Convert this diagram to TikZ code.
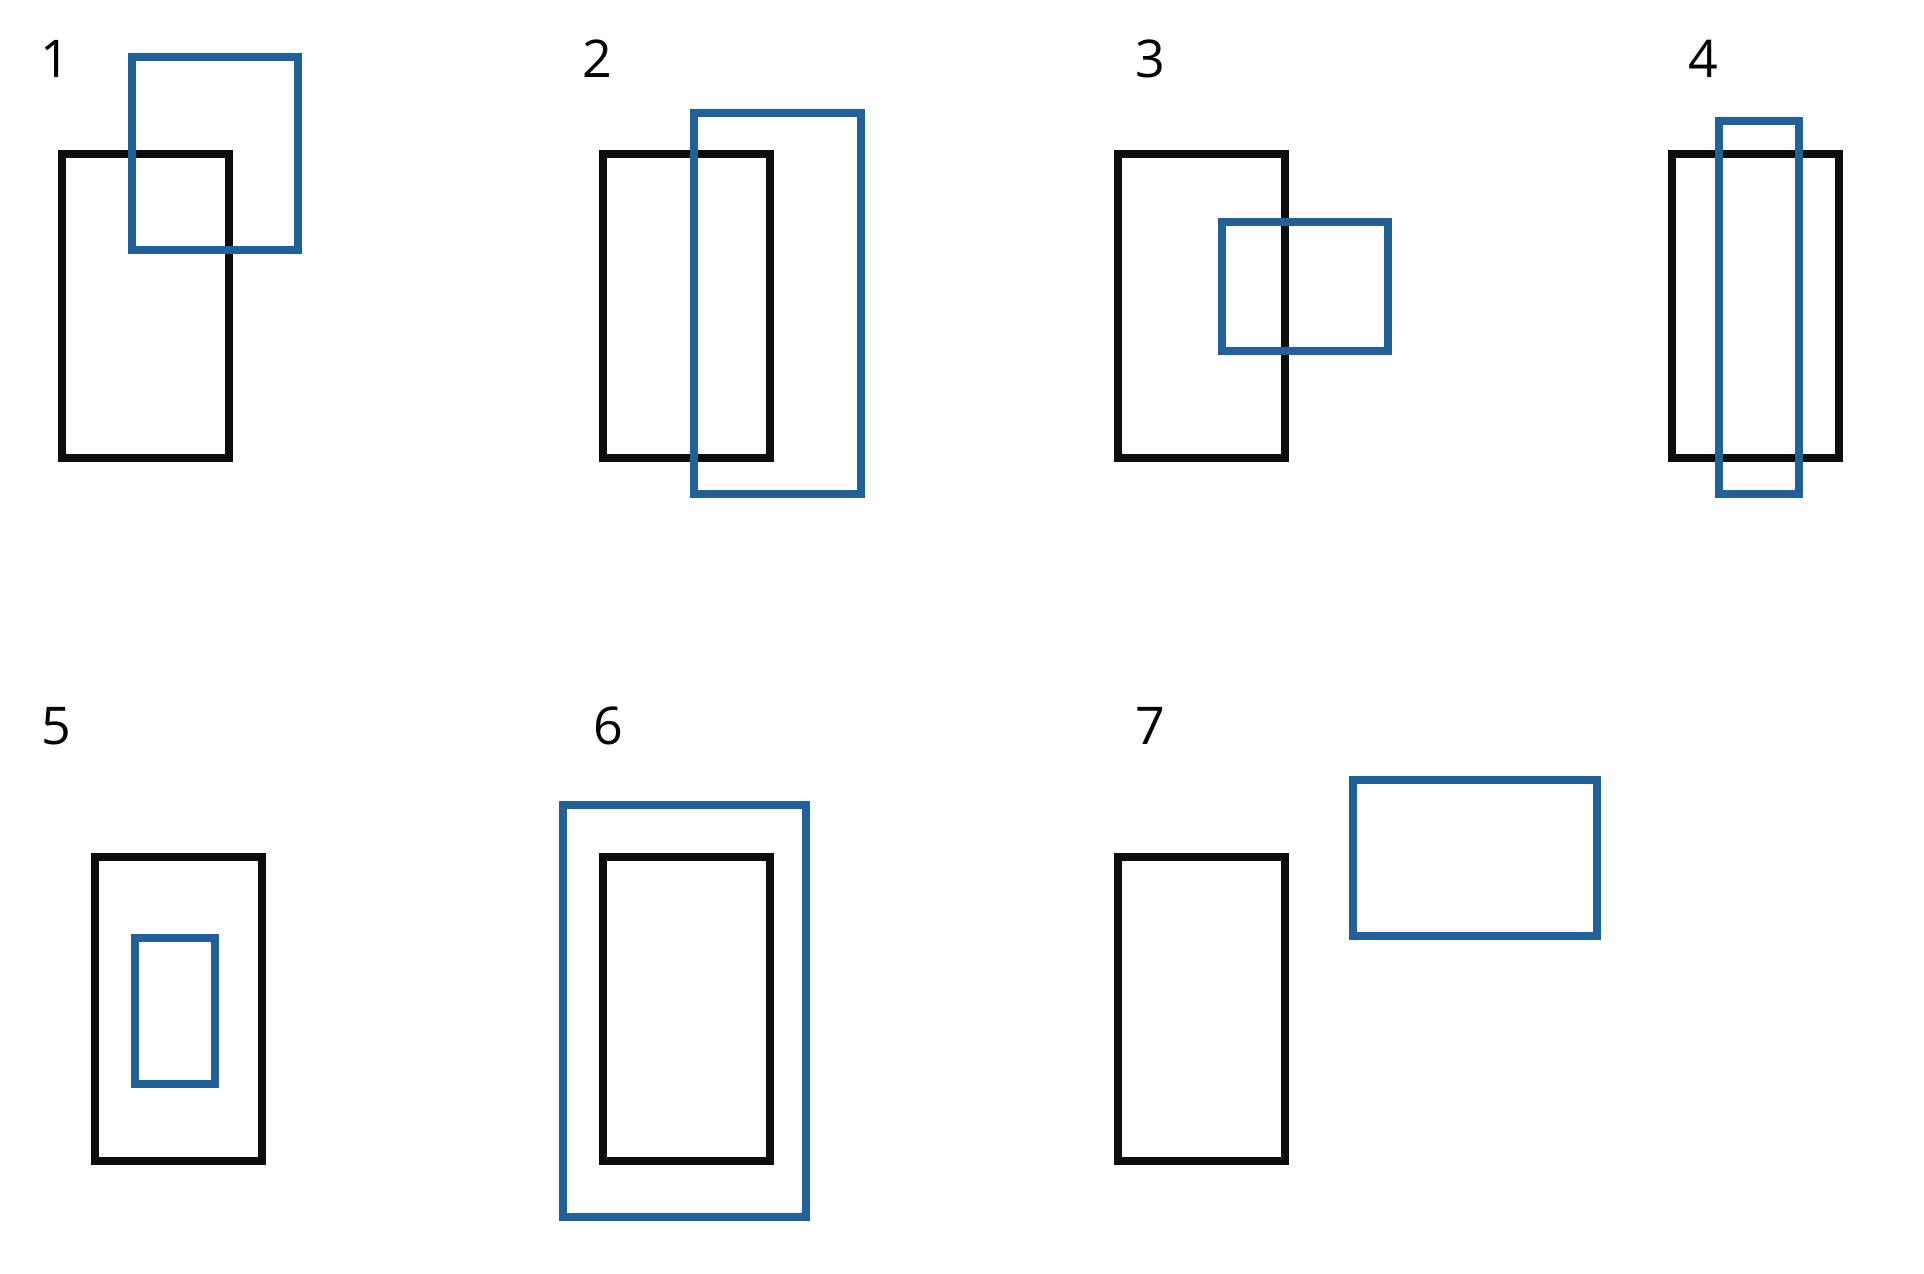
\documentclass[tikz,border=0pt]{standalone}
\usepackage{fontspec}
\setmainfont{Open Sans}
\usepackage{tikz}
\usetikzlibrary{positioning}
\definecolor{ink}{RGB}{13,13,13}
\definecolor{boxblue}{RGB}{34,96,154}

\begin{document}
\begin{tikzpicture}[
  x=0.5pt, y=-0.5pt,
  every node/.style={font=\fontsize{26}{30}\selectfont, inner sep=0pt},
  refbox/.style={rectangle, draw=ink, line width=4pt, minimum width=83.5pt, minimum height=152pt},
  testbox/.style={rectangle, draw=boxblue, line width=4pt},
  num/.style={text=black}
]
  \useasboundingbox (0,0) rectangle (1924,1274);

  % black reference boxes
  \node[refbox] (r1) at (145.5,306)  {};
  \node[refbox] (r2) at (686.5,306)  {};
  \node[refbox] (r3) at (1201,306)   {};
  \node[refbox] (r4) at (1755,306)   {};
  \node[refbox] (r5) at (178,1009)   {};
  \node[refbox] (r6) at (686.5,1009) {};
  \node[refbox] (r7) at (1201,1009)  {};

  % blue boxes
  \node[testbox, minimum width=83pt,   minimum height=96.5pt]  (t1) at (214.75,153.5) {};
  \node[testbox, minimum width=83.5pt, minimum height=190.5pt] (t2) at (777,303.5)    {};
  \node[testbox, minimum width=83pt,   minimum height=64.5pt]  (t3) at (1305,286.5)   {};
  \node[testbox, minimum width=40pt,   minimum height=186.5pt] (t4) at (1759,307.5)   {};
  \node[testbox, minimum width=40pt,   minimum height=73pt]    (t5) at (175,1011)     {};
  \node[testbox, minimum width=121.5pt,minimum height=206pt]   (t6) at (684.5,1011)   {};
  \node[testbox, minimum width=122pt,  minimum height=78pt]    (t7) at (1475,858)     {};

  % case numbers
  \node[num] (n1) at (55,59)    {1};
  \node[num] (n2) at (597,59)   {2};
  \node[num] (n3) at (1150,59)  {3};
  \node[num] (n4) at (1703,59)  {4};
  \node[num] (n5) at (56,726)   {5};
  \node[num] (n6) at (608,726)  {6};
  \node[num] (n7) at (1150,726) {7};
\end{tikzpicture}
\end{document}
